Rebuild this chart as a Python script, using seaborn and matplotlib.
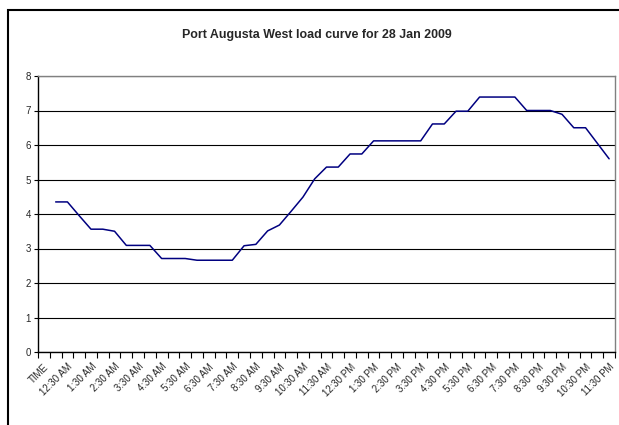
import matplotlib
matplotlib.use("Agg")
import matplotlib.pyplot as plt
import seaborn as sns
import pandas as pd
from matplotlib.patches import Rectangle
from matplotlib.ticker import FixedLocator

title = "Port Augusta West load curve for 28 Jan 2009"

times = []
for h in range(24):
    hh = 12 if h % 12 == 0 else h % 12
    ap = "AM" if h < 12 else "PM"
    times.append(f"{hh}:00 {ap}")
    times.append(f"{hh}:30 {ap}")
categories = ["TIME"] + times

load = [4.35, 4.35, 3.95, 3.56, 3.56, 3.50, 3.09, 3.09, 3.09, 2.71, 2.71, 2.71,
        2.66, 2.66, 2.66, 2.66, 3.08, 3.12, 3.51, 3.68, 4.08, 4.49, 5.02, 5.36,
        5.36, 5.74, 5.74, 6.12, 6.12, 6.12, 6.12, 6.12, 6.61, 6.61, 6.98, 6.98,
        7.39, 7.39, 7.39, 7.39, 7.00, 7.00, 7.00, 6.89, 6.50, 6.50, 6.05, 5.60]

y_ticks = [0, 1, 2, 3, 4, 5, 6, 7, 8]

sns.set_theme(style="white")
plt.rcParams["font.family"] = ["Liberation Sans", "DejaVu Sans"]

df = pd.DataFrame({"pos": [categories.index(t) for t in times], "load": load})

fig = plt.figure(figsize=(6.19, 4.25), dpi=100)
ax = fig.add_axes([38 / 619, 1 - 352 / 425, (615 - 38) / 619, (352 - 76) / 425])

sns.lineplot(data=df, x="pos", y="load", ax=ax, color="#000080", linewidth=1.1)

ax.set_xlim(-0.5, len(categories) - 0.5)
ax.set_ylim(0, 8)
ax.set_yticks(y_ticks)
ax.set_yticklabels([str(v) for v in y_ticks], fontsize=7)

major = list(range(0, len(categories), 2))
ax.set_xticks(major)
ax.set_xticklabels([categories[i] for i in major], rotation=45, ha="right",
                   rotation_mode="anchor", fontsize=7)
ax.xaxis.set_minor_locator(FixedLocator([i - 0.5 for i in range(len(categories) + 1)]))
ax.tick_params(axis="x", which="major", length=0, pad=7)
ax.tick_params(axis="x", which="minor", length=4, width=0.8, color="black", direction="out", bottom=True)
ax.tick_params(axis="y", which="major", length=3, width=0.8, color="black", direction="out", left=True, pad=2)

ax.set_xlabel("")
ax.set_ylabel("")
ax.yaxis.grid(True, color="black", linewidth=0.8)
ax.xaxis.grid(False)

for s in ["left", "bottom"]:
    ax.spines[s].set_color("black")
    ax.spines[s].set_linewidth(1.0)
for s in ["top", "right"]:
    ax.spines[s].set_color("#808080")
    ax.spines[s].set_linewidth(1.0)

fig.text(317 / 619, 1 - 35 / 425, title, ha="center", va="center",
         fontsize=8.9, fontweight="bold")

fig.patches.append(Rectangle((7.5 / 619, -0.1), 1.2, 1 - 10.5 / 425 + 0.1,
                             transform=fig.transFigure, fill=False,
                             edgecolor="black", linewidth=1.5, zorder=0))

fig.savefig("out.png", dpi=100)
